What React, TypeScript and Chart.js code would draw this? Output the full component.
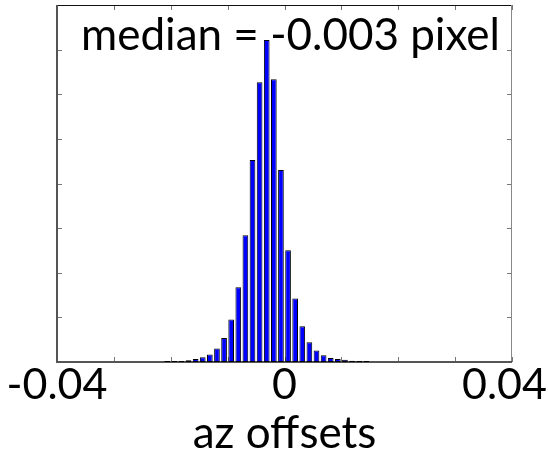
import React, { useEffect, useRef } from 'react';
import { Chart, registerables } from 'chart.js';

Chart.register(...registerables);

// Histogram of azimuth offsets: bin centres (bin width 0.00125) and counts
const binCenters = [
  -0.020625, -0.019375, -0.018125, -0.016875, -0.015625, -0.014375, -0.013125,
  -0.011875, -0.010625, -0.009375, -0.008125, -0.006875, -0.005625, -0.004375,
  -0.003125, -0.001875, -0.000625, 0.000625, 0.001875, 0.003125, 0.004375,
  0.005625, 0.006875, 0.008125, 0.009375, 0.010625, 0.011875, 0.013125, 0.014375,
];
const binCounts = [
  22, 22, 22, 38, 67, 105, 168, 303, 538, 953, 1676, 2842, 4524, 6267, 7216,
  6334, 4300, 2505, 1422, 801, 442, 256, 150, 90, 67, 49, 29, 22, 22,
];

const xTickValues = [-0.04, 0, 0.04];
const xTickLabels = ['-0.04', '0', '0.04'];
const xMin = -0.04;
const xMax = 0.04;
const xStep = 0.01;
const yMax = 8000;
const yStep = 1000;

const annotationText = 'median = -0.003 pixel';
const xAxisTitle = 'az offsets';

const FONT = 'Lato, "Open Sans", sans-serif';

// Axes box with inward tick marks, drawn underneath the bars
const framePlugin = {
  id: 'frameAndTicks',
  beforeDatasetsDraw(chart: any) {
    const { ctx, chartArea } = chart;
    const { left, right, top, bottom } = chartArea;
    const xs = chart.scales.x;
    const ys = chart.scales.y;
    ctx.save();

    ctx.strokeStyle = '#777';
    ctx.lineWidth = 1;
    const tl = 5;
    ctx.beginPath();
    for (let v = xMin; v <= xMax + 1e-9; v += xStep) {
      const px = Math.round(xs.getPixelForValue(v)) + 0.5;
      ctx.moveTo(px, bottom);
      ctx.lineTo(px, bottom - tl);
      ctx.moveTo(px, top);
      ctx.lineTo(px, top + tl);
    }
    for (let v = 0; v <= yMax; v += yStep) {
      const py = Math.round(ys.getPixelForValue(v)) + 0.5;
      ctx.moveTo(left, py);
      ctx.lineTo(left + tl, py);
      ctx.moveTo(right, py);
      ctx.lineTo(right - tl, py);
    }
    ctx.stroke();

    ctx.lineWidth = 1;
    ctx.strokeStyle = '#111';
    ctx.beginPath();
    ctx.moveTo(left, top + 0.5);
    ctx.lineTo(right, top + 0.5);
    ctx.stroke();
    ctx.strokeStyle = '#888';
    ctx.beginPath();
    ctx.moveTo(right - 0.5, top);
    ctx.lineTo(right - 0.5, bottom);
    ctx.stroke();
    ctx.strokeStyle = '#555';
    ctx.lineWidth = 2;
    ctx.beginPath();
    ctx.moveTo(left, top);
    ctx.lineTo(left, bottom);
    ctx.lineTo(right, bottom);
    ctx.stroke();
    ctx.restore();
  },
  // axis labels and the median annotation
  afterDatasetsDraw(chart: any) {
    const { ctx, chartArea, width, height } = chart;
    const { left, right, top, bottom } = chartArea;
    const xs = chart.scales.x;
    ctx.save();
    ctx.fillStyle = '#000';
    ctx.textBaseline = 'alphabetic';
    ctx.textAlign = 'center';

    ctx.font = `43px ${FONT}`;
    xTickValues.forEach((v, i) => {
      const label = xTickLabels[i];
      const w = ctx.measureText(label).width;
      let px = xs.getPixelForValue(v);
      px = Math.min(px, width - w / 2 - 1);
      px = Math.max(px, w / 2 + 1);
      ctx.fillText(label, px, bottom + 37);
    });

    ctx.font = `44px ${FONT}`;
    ctx.fillText(xAxisTitle, (left + right) / 2, height - 7);
    ctx.fillText(annotationText, (left + right) / 2 + 6, top + 45);
    ctx.restore();
  },
};

export default function App() {
  const canvasRef = useRef<HTMLCanvasElement | null>(null);

  useEffect(() => {
    document.body.style.margin = '0';
    const canvas = canvasRef.current;
    if (!canvas) return;
    const chart = new Chart(canvas, {
      type: 'bar',
      data: {
        datasets: [
          {
            data: binCenters.map((x, i) => ({ x, y: binCounts[i] })),
            backgroundColor: '#0000ff',
            borderColor: '#000',
            borderWidth: 1,
            borderSkipped: false,
            barPercentage: 0.8,
            categoryPercentage: 1,
          },
        ],
      },
      options: {
        responsive: false,
        animation: false,
        devicePixelRatio: 1,
        layout: { padding: { left: 57, right: 36, top: 5, bottom: 93 } },
        plugins: {
          legend: { display: false },
          tooltip: { enabled: false },
        },
        scales: {
          x: {
            type: 'linear',
            display: false,
            min: xMin,
            max: xMax,
            offset: false,
          },
          y: {
            display: false,
            min: 0,
            max: yMax,
          },
        },
      },
      plugins: [framePlugin],
    });
    return () => chart.destroy();
  }, []);

  return (
    <div style={{ width: 548, height: 455 }}>
      <canvas ref={canvasRef} width={548} height={455} style={{ width: 548, height: 455 }} />
    </div>
  );
}
